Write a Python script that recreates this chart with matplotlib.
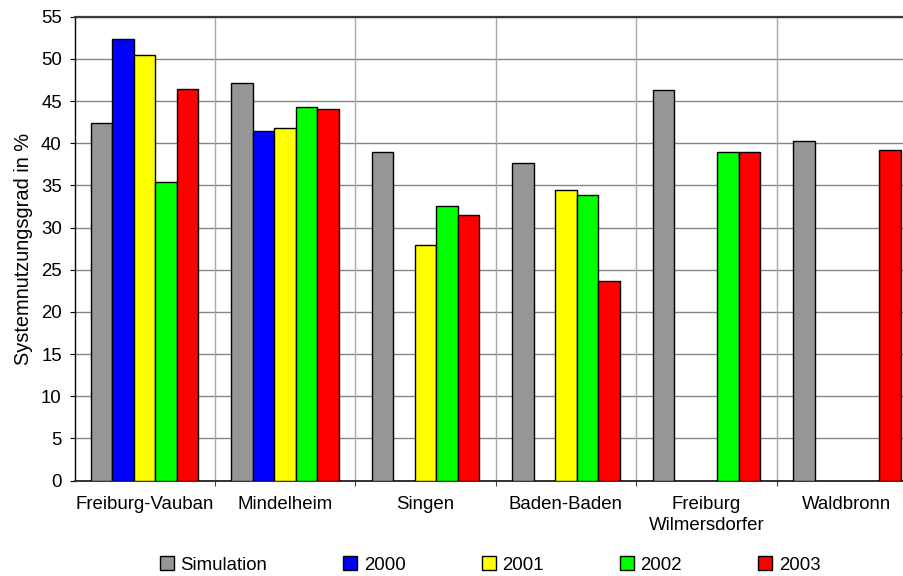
import numpy as np
import matplotlib
matplotlib.use("Agg")
import matplotlib.pyplot as plt
from matplotlib.ticker import FixedLocator, MultipleLocator

plt.rcParams["font.family"] = ["Liberation Sans", "DejaVu Sans"]

# Data
sites = ["Freiburg-Vauban", "Mindelheim", "Singen", "Baden-Baden",
         "Freiburg\nWilmersdorfer", "Waldbronn"]
series_names = ["Simulation", "2000", "2001", "2002", "2003"]
simulation = [42.4, 47.1, 39.0, 37.6, 46.3, 40.3]
y2000 = [52.3, 41.4, np.nan, np.nan, np.nan, np.nan]
y2001 = [50.4, 41.8, 27.9, 34.5, np.nan, np.nan]
y2002 = [35.4, 44.3, 32.5, 33.9, 39.0, np.nan]
y2003 = [46.4, 44.0, 31.5, 23.6, 39.0, 39.2]
series = [simulation, y2000, y2001, y2002, y2003]
colors = ["#969696", "#0000ff", "#ffff00", "#00ff00", "#ff0000"]

fs = 13.4
W, H = 904, 576
fig = plt.figure(figsize=(W / 100, H / 100), dpi=100)
left_px, right_px, top_px, bottom_px = 74.5, 917.0, 16.7, 480.5
ax = fig.add_axes([left_px / W, 1 - bottom_px / H,
                   (right_px - left_px) / W, (bottom_px - top_px) / H])

n_cat = len(sites)
bar_w = 0.153
centers = np.arange(n_cat) + 0.5
for j, (name, vals, col) in enumerate(zip(series_names, series, colors)):
    ax.bar(centers + (j - 2) * bar_w, vals, width=bar_w, color=col,
           edgecolor="black", linewidth=1.0, label=name, zorder=3)

ax.set_xlim(0, n_cat)
ax.set_ylim(0, 55)
ax.yaxis.set_major_locator(MultipleLocator(5))

# Category labels at group centres, tick marks at group boundaries
ax.set_xticks(centers)
ax.set_xticklabels(sites, fontsize=fs, linespacing=1.25)
ax.xaxis.set_minor_locator(FixedLocator(np.arange(1, n_cat)))
ax.tick_params(axis="x", which="major", length=0, pad=11.5)
ax.tick_params(axis="x", which="minor", length=3.6, width=0.8,
               direction="out", color="#404040")
ax.tick_params(axis="y", which="major", length=3.6, width=0.8,
               direction="out", pad=5.5, labelsize=fs)

# Grid
for v in range(5, 56, 5):
    ax.axhline(v, color="#858585", linewidth=1.0, zorder=1)
for v in range(1, n_cat):
    ax.axvline(v, color="#a8a8a8", linewidth=1.0, zorder=1)

ax.spines["right"].set_visible(False)
ax.spines["top"].set_color("#3a3a3a")
ax.spines["top"].set_linewidth(1.6)
ax.spines["left"].set_color("black")
ax.spines["left"].set_linewidth(1.0)
ax.spines["bottom"].set_color("#303030")
ax.spines["bottom"].set_linewidth(1.4)

ax.set_ylabel("Systemnutzungsgrad in %", fontsize=14.4)
ax.yaxis.set_label_coords((33 - left_px) / (right_px - left_px), 0.5)

leg = fig.legend(loc="center", bbox_to_anchor=(490 / W, 1 - 565 / H), ncol=5,
                 frameon=False, fontsize=fs, handlelength=0.75,
                 handleheight=0.75, handletextpad=0.35, columnspacing=4.1,
                 borderaxespad=0)

fig.savefig("out.png", dpi=100)
